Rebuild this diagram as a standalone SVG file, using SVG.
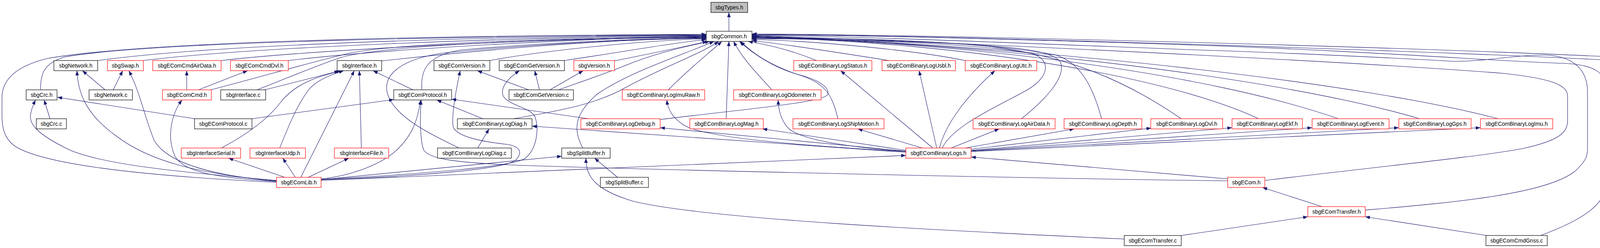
<svg xmlns="http://www.w3.org/2000/svg" width="4580" height="635" viewBox="0 0 4580 635">
<style>
.e{fill:none;stroke:#191970;stroke-width:1.1;marker-end:url(#ah)}
.k rect{fill:#fff;stroke:#000;stroke-width:1.2}
.r rect{fill:#fff;stroke:#f00;stroke-width:1.2}
.g rect{fill:#bfbfbf;stroke:#000;stroke-width:1.2}
text{font-family:"Liberation Sans",Arial,sans-serif;font-size:14px;text-anchor:middle;fill:#000}
</style>
<defs>
<marker id="ah" markerWidth="12" markerHeight="9" refX="12" refY="4.5" orient="auto" markerUnits="userSpaceOnUse">
<path d="M0,0 L12,4.5 L0,9 z" fill="#191970"/>
</marker>
</defs>
<rect width="4580" height="635" fill="#fff"/>
<g id="edges">
<path class="e" d="M1866,80 L1866,32"/>
<path class="e" d="M708,467 C 400,452 110,425 35,372 C 10,352 5,325 5,295 L5,250 C 5,205 40,170 120,150 C 400,100 1300,90 1808,88"/>
<path class="e" d="M104,230 C 103,190 112,162 165,146 C 400,104 1300,92 1808,89"/>
<path class="e" d="M250,155 C 550,114 1200,94 1808,90"/>
<path class="e" d="M367,155 C 650,120 1300,96 1808,91"/>
<path class="e" d="M566,155 C 800,128 1400,98 1808,92"/>
<path class="e" d="M738,155 C 1000,124 1500,98 1808,93"/>
<path class="e" d="M540,230 C 700,188 800,158 900,135 C 1050,108 1450,98 1808,94"/>
<path class="e" d="M658,230 C 740,198 800,172 870,148 C 980,115 1400,100 1808,95"/>
<path class="e" d="M977,156 C 1300,120 1600,100 1808,96"/>
<path class="e" d="M1080,230 C 1076,180 1092,142 1180,128 C 1400,108 1650,99 1808,97"/>
<path class="e" d="M1175,379 C 1100,342 1010,300 992,240 C 978,190 1030,150 1140,135 C 1400,110 1650,100 1808,98"/>
<path class="e" d="M1254,155 C 1400,128 1650,104 1808,99"/>
<path class="e" d="M1445,155 C 1600,132 1720,110 1808,101"/>
<path class="e" d="M1573,156 C 1680,134 1760,118 1811,106"/>
<path class="e" d="M1430,230 C 1500,205 1560,185 1620,160 C 1700,130 1770,116 1817,106"/>
<path class="e" d="M1492,379 C 1465,330 1472,290 1530,240 C 1620,180 1750,140 1828,106"/>
<path class="e" d="M1315,304 C 1420,285 1520,270 1600,225 C 1700,170 1790,140 1840,106"/>
<path class="e" d="M1711,230 C 1760,180 1810,140 1848,106"/>
<path class="e" d="M1859,304 L1866,106"/>
<path class="e" d="M1976,230 C 1940,190 1900,150 1878,106"/>
<path class="e" d="M2145,304 C 2130,240 2110,210 2040,190 C 1980,170 1930,140 1893,106"/>
<path class="e" d="M1690,306 C 1900,280 2120,262 2120,240 C 2120,215 2080,200 2040,190 C 1980,172 1930,140 1896,106"/>
<path class="e" d="M2090,155 C 2030,130 1970,115 1915,106"/>
<path class="e" d="M2276,155 C 2150,135 2000,112 1925,104"/>
<path class="e" d="M2471,155 C 2350,130 2100,105 1925,101"/>
<path class="e" d="M2412,379 C 2440,320 2560,270 2630,230 C 2690,195 2690,150 2640,137 C 2500,110 2150,100 1925,99"/>
<path class="e" d="M2615,304 C 2670,260 2730,200 2715,160 C 2700,130 2600,120 2450,112 C 2250,103 2050,99 1925,98"/>
<path class="e" d="M2820,304 C 2800,230 2770,160 2700,140 C 2500,105 2200,98 1925,97"/>
<path class="e" d="M3024,304 C 2900,220 2750,140 2500,115 C 2300,100 2100,97 1925,96"/>
<path class="e" d="M3222,304 C 3000,200 2500,110 1925,95"/>
<path class="e" d="M3426,304 C 3100,190 2500,110 1925,94"/>
<path class="e" d="M3634,304 C 3300,205 2600,115 1925,93"/>
<path class="e" d="M3835,304 C 3500,215 2700,120 1925,92"/>
<path class="e" d="M3238,462 C 3500,430 3800,400 3900,380 C 3990,360 4013,340 4013,310 L4013,245 C 4013,215 3960,200 3850,188 C 3500,160 2500,110 1925,91"/>
<path class="e" d="M3495,538 C 3700,520 3950,500 4030,440 C 4064,410 4064,395 4064,380 L4064,235 C 4064,180 4030,145 3960,141 C 3880,140 3800,158 3720,157 C 3600,150 3300,135 3040,127 C 2600,110 2200,93 1925,90"/>
<path class="e" d="M3944,603 C 4060,560 4114,520 4114,460 L4114,235 C 4114,185 4080,165 4000,162 C 3850,158 3500,130 3040,115 C 2600,100 2200,90 1925,89"/>
<path class="e" d="M4152,156 C 3800,135 2500,92 1925,88"/>
<path class="e" d="M4288,155 C 3900,128 2500,90 1925,87"/>
<path class="e" d="M4323,230 L4370,181"/>
<path class="e" d="M4478,230 L4410,181"/>
<path class="e" d="M269,230 L211,181"/>
<path class="e" d="M290,230 L314,181"/>
<path class="e" d="M128,304 L113,256"/>
<path class="e" d="M498,304 L147,249"/>
<path class="e" d="M645,304 L1008,255"/>
<path class="e" d="M478,230 L478,181"/>
<path class="e" d="M508,230 L634,181"/>
<path class="e" d="M708,462 C 450,440 250,420 170,380 C 100,345 75,320 78,295 C 80,280 85,268 91,256"/>
<path class="e" d="M708,463 C 500,445 380,410 300,350 C 230,300 200,250 197,181"/>
<path class="e" d="M708,464 C 550,450 430,420 395,360 C 370,300 360,240 330,181"/>
<path class="e" d="M708,465 C 550,455 470,440 448,400 C 425,350 440,290 466,256"/>
<path class="e" d="M729,454 L585,405"/>
<path class="e" d="M756,454 L724,405"/>
<path class="e" d="M770,454 L907,181"/>
<path class="e" d="M789,454 L893,405"/>
<path class="e" d="M822,458 C 900,450 980,420 1020,380 C 1060,340 1070,300 1077,256"/>
<path class="e" d="M822,460 L1438,400"/>
<path class="e" d="M822,459 C 1100,445 1320,425 1345,405 C 1375,380 1380,330 1370,300 C 1360,275 1300,270 1288,245 C 1280,225 1300,200 1330,181"/>
<path class="e" d="M822,460 C 1050,452 1290,435 1320,410 C 1340,390 1330,375 1300,370 C 1230,362 1170,350 1160,325 C 1155,290 1170,220 1178,181"/>
<path class="e" d="M822,462 L2319,398"/>
<path class="e" d="M3143,463 C 2500,455 1500,430 1300,422 C 1150,415 1100,405 1085,385 C 1075,360 1075,300 1078,256"/>
<path class="e" d="M567,379 C 640,340 690,300 720,260 C 760,210 820,195 873,181"/>
<path class="e" d="M716,379 C 740,320 760,270 790,230 C 810,205 850,190 880,181"/>
<path class="e" d="M678,230 L868,182"/>
<path class="e" d="M925,379 L920,181"/>
<path class="e" d="M1057,230 L955,181"/>
<path class="e" d="M1236,304 L1118,256"/>
<path class="e" d="M1507,304 L1156,254"/>
<path class="e" d="M1353,230 L1222,181"/>
<path class="e" d="M1381,230 L1369,181"/>
<path class="e" d="M1408,230 L1493,181"/>
<path class="e" d="M1223,379 L1252,330"/>
<path class="e" d="M1581,454 L1522,405"/>
<path class="e" d="M2878,612 C 2400,590 1800,560 1620,515 C 1520,485 1500,450 1500,405"/>
<path class="e" d="M3024,603 L3348,555"/>
<path class="e" d="M3806,603 L3495,555"/>
<path class="e" d="M3384,529 L3232,480"/>
<path class="e" d="M3143,458 L2486,402"/>
<path class="e" d="M2435,379 L2558,330"/>
<path class="e" d="M2471,379 L2750,330"/>
<path class="e" d="M2486,382 L2947,328"/>
<path class="e" d="M2486,385 L3154,327"/>
<path class="e" d="M2486,386 L3359,327"/>
<path class="e" d="M2486,387 L3581,327"/>
<path class="e" d="M2486,388 L3790,327"/>
<path class="e" d="M2388,379 L2152,181"/>
<path class="e" d="M2398,379 L2353,181"/>
<path class="e" d="M2405,379 C 2420,320 2470,250 2547,181"/>
<path class="e" d="M2361,379 L2196,330"/>
<path class="e" d="M2319,385 L1952,330"/>
<path class="e" d="M2319,387 L1690,327"/>
<path class="e" d="M2319,388 C 2000,370 1800,350 1750,320 C 1720,300 1710,280 1707,256"/>
<path class="e" d="M2319,388 C 2150,375 2050,355 2020,330 C 2000,310 1993,285 1992,256"/>
<path class="e" d="M2319,390 L1362,323"/>
</g>
<g id="n_types" class="g"><rect x="1820" y="6" width="94" height="26"/><text x="1867" y="24">sbgTypes.h</text></g>
<g id="n_common" class="k"><rect x="1808" y="80" width="117" height="26"/><text x="1866.5" y="98">sbgCommon.h</text></g>
<g id="n_network_h" class="k"><rect x="138" y="155" width="112" height="26"/><text x="194" y="173">sbgNetwork.h</text></g>
<g id="n_swap" class="r"><rect x="275" y="155" width="92" height="26"/><text x="321" y="173">sbgSwap.h</text></g>
<g id="n_cmdair" class="r"><rect x="391" y="155" width="175" height="26"/><text x="478.5" y="173">sbgEComCmdAirData.h</text></g>
<g id="n_cmddvl" class="r"><rect x="590" y="155" width="148" height="26"/><text x="664" y="173">sbgEComCmdDvl.h</text></g>
<g id="n_iface_h" class="k"><rect x="863" y="155" width="114" height="26"/><text x="920" y="173">sbgInterface.h</text></g>
<g id="n_ecomver" class="k"><rect x="1111" y="155" width="143" height="26"/><text x="1182.5" y="173">sbgEComVersion.h</text></g>
<g id="n_getver_h" class="k"><rect x="1278" y="155" width="167" height="26"/><text x="1361.5" y="173">sbgEComGetVersion.h</text></g>
<g id="n_sbgver" class="r"><rect x="1469" y="155" width="104" height="26"/><text x="1521" y="173">sbgVersion.h</text></g>
<g id="n_status" class="r"><rect x="2032" y="155" width="200" height="26"/><text x="2132" y="173">sbgEComBinaryLogStatus.h</text></g>
<g id="n_usbl" class="r"><rect x="2258" y="155" width="188" height="26"/><text x="2352" y="173">sbgEComBinaryLogUsbl.h</text></g>
<g id="n_utc" class="r"><rect x="2471" y="155" width="183" height="26"/><text x="2562.5" y="173">sbgEComBinaryLogUtc.h</text></g>
<g id="n_platform" class="k"><rect x="4152" y="155" width="112" height="26"/><text x="4208" y="173">sbgPlatform.c</text></g>
<g id="n_sbcommon" class="k"><rect x="4288" y="155" width="203" height="26"/><text x="4389.5" y="173">sbgStreamBufferCommon.h</text></g>
<g id="n_crc_h" class="k"><rect x="67" y="230" width="79" height="26"/><text x="106.5" y="248">sbgCrc.h</text></g>
<g id="n_network_c" class="k"><rect x="228" y="230" width="111" height="26"/><text x="283.5" y="248">sbgNetwork.c</text></g>
<g id="n_cmd_h" class="r"><rect x="416" y="230" width="125" height="26"/><text x="478.5" y="248">sbgEComCmd.h</text></g>
<g id="n_iface_c" class="k"><rect x="565" y="230" width="115" height="26"/><text x="622.5" y="248">sbgInterface.c</text></g>
<g id="n_proto_h" class="k"><rect x="1008" y="230" width="148" height="26"/><text x="1082" y="248">sbgEComProtocol.h</text></g>
<g id="n_getver_c" class="k"><rect x="1303" y="230" width="165" height="26"/><text x="1385.5" y="248">sbgEComGetVersion.c</text></g>
<g id="n_imuraw" class="r"><rect x="1593" y="230" width="211" height="26"/><text x="1698.5" y="248">sbgEComBinaryLogImuRaw.h</text></g>
<g id="n_odo" class="r"><rect x="1878" y="230" width="224" height="26"/><text x="1990" y="248">sbgEComBinaryLogOdometer.h</text></g>
<g id="n_sble" class="r"><rect x="4231" y="230" width="159" height="26"/><text x="4310.5" y="248">sbgStreamBufferLE.h</text></g>
<g id="n_sbbe" class="r"><rect x="4414" y="230" width="161" height="26"/><text x="4494.5" y="248">sbgStreamBufferBE.h</text></g>
<g id="n_crc_c" class="k"><rect x="93" y="304" width="77" height="26"/><text x="131.5" y="322">sbgCrc.c</text></g>
<g id="n_proto_c" class="k"><rect x="498" y="304" width="147" height="26"/><text x="571.5" y="322">sbgEComProtocol.c</text></g>
<g id="n_diag_h" class="k"><rect x="1171" y="304" width="191" height="26"/><text x="1266.5" y="322">sbgEComBinaryLogDiag.h</text></g>
<g id="n_debug" class="r"><rect x="1487" y="304" width="203" height="26"/><text x="1588.5" y="322">sbgEComBinaryLogDebug.h</text></g>
<g id="n_mag" class="r"><rect x="1766" y="304" width="188" height="26"/><text x="1860" y="322">sbgEComBinaryLogMag.h</text></g>
<g id="n_ship" class="r"><rect x="2030" y="304" width="233" height="26"/><text x="2146.5" y="322">sbgEComBinaryLogShipMotion.h</text></g>
<g id="n_airdata" class="r"><rect x="2491" y="304" width="210" height="26"/><text x="2596" y="322">sbgEComBinaryLogAirData.h</text></g>
<g id="n_depth" class="r"><rect x="2724" y="304" width="199" height="26"/><text x="2823.5" y="322">sbgEComBinaryLogDepth.h</text></g>
<g id="n_dvl" class="r"><rect x="2946" y="304" width="184" height="26"/><text x="3038" y="322">sbgEComBinaryLogDvl.h</text></g>
<g id="n_ekf" class="r"><rect x="3154" y="304" width="180" height="26"/><text x="3244" y="322">sbgEComBinaryLogEkf.h</text></g>
<g id="n_event" class="r"><rect x="3359" y="304" width="197" height="26"/><text x="3457.5" y="322">sbgEComBinaryLogEvent.h</text></g>
<g id="n_gps" class="r"><rect x="3581" y="304" width="185" height="26"/><text x="3673.5" y="322">sbgEComBinaryLogGps.h</text></g>
<g id="n_imu" class="r"><rect x="3790" y="304" width="185" height="26"/><text x="3882.5" y="322">sbgEComBinaryLogImu.h</text></g>
<g id="n_serial" class="r"><rect x="464" y="379" width="152" height="26"/><text x="540" y="397">sbgInterfaceSerial.h</text></g>
<g id="n_udp" class="r"><rect x="640" y="379" width="142" height="26"/><text x="711" y="397">sbgInterfaceUdp.h</text></g>
<g id="n_file" class="r"><rect x="856" y="379" width="139" height="26"/><text x="925.5" y="397">sbgInterfaceFile.h</text></g>
<g id="n_diag_c" class="k"><rect x="1120" y="379" width="189" height="26"/><text x="1214.5" y="397">sbgEComBinaryLogDiag.c</text></g>
<g id="n_split_h" class="k"><rect x="1438" y="379" width="124" height="26"/><text x="1500" y="397">sbgSplitBuffer.h</text></g>
<g id="n_logs" class="r"><rect x="2319" y="379" width="167" height="26"/><text x="2402.5" y="397">sbgEComBinaryLogs.h</text></g>
<g id="n_lib" class="r"><rect x="708" y="454" width="114" height="26"/><text x="765" y="472">sbgEComLib.h</text></g>
<g id="n_split_c" class="k"><rect x="1537" y="454" width="123" height="26"/><text x="1598.5" y="472">sbgSplitBuffer.c</text></g>
<g id="n_ecom" class="r"><rect x="3143" y="454" width="95" height="26"/><text x="3190.5" y="472">sbgECom.h</text></g>
<g id="n_transfer_h" class="r"><rect x="3348" y="529" width="147" height="26"/><text x="3421.5" y="547">sbgEComTransfer.h</text></g>
<g id="n_transfer_c" class="k"><rect x="2878" y="603" width="146" height="26"/><text x="2951" y="621">sbgEComTransfer.c</text></g>
<g id="n_gnss_c" class="k"><rect x="3804" y="603" width="157" height="26"/><text x="3882.5" y="621">sbgEComCmdGnss.c</text></g>
</svg>
